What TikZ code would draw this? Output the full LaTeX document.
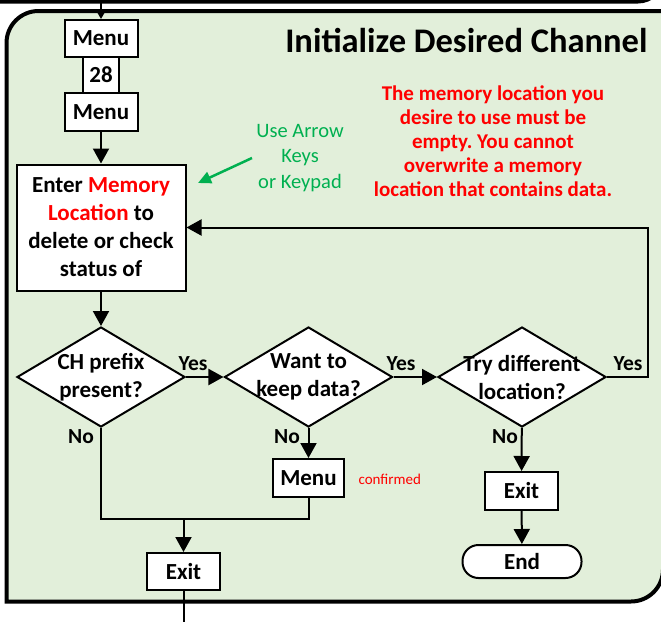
\documentclass[tikz,border=0pt]{standalone}
\usepackage{fontspec}
\setmainfont{Carlito}
\usetikzlibrary{arrows.meta,positioning,calc,shapes.geometric}
\definecolor{panelgreen}{HTML}{E2EFDA}
\definecolor{keygreen}{HTML}{00B050}
\definecolor{notered}{HTML}{FF0000}
\frenchspacing

\begin{document}
\begin{tikzpicture}[x=1pt, y=-1pt, >={Triangle[length=15pt,width=16pt]},
  box/.style={draw, fill=white, line width=2pt, inner sep=0pt, align=center,
    font=\fontsize{23}{28}\selectfont\bfseries},
  decision/.style={draw, fill=white, diamond, line width=2pt, inner sep=0pt,
    minimum width=168pt, minimum height=100pt},
  dtext/.style={inner sep=0pt, align=center, font=\fontsize{23}{28}\selectfont\bfseries},
  answer/.style={inner sep=0pt, font=\fontsize{21.5}{24}\selectfont\bfseries},
  flow/.style={line width=2pt}]
  \useasboundingbox (0,0) rectangle (661,621);

  % panel and the edge of the one above
  \draw[line width=4pt, fill=panelgreen] (6.5,601.5) -- (6.5,43)
    arc[start angle=180, end angle=270, radius=32] -- (663,11) -- (663,569.5)
    arc[start angle=0, end angle=90, radius=32] -- cycle;
  \draw[line width=4pt] (-5,1.5) -- (638,1.5) arc[start angle=90, end angle=0, radius=25];

  \node[font=\fontsize{34.5}{38}\selectfont\bfseries, anchor=east] (title) at (651,40) {Initialize Desired Channel};

  % key sequence
  \node[box, minimum width=73pt, minimum height=37pt] (M1) at (101,38.5) {Menu};
  \node[box, minimum width=36pt, minimum height=36pt] (K28) at (101,75) {28};
  \node[box, minimum width=73pt, minimum height=38pt] (M2) at (101,112) {Menu};
  \node[box, minimum width=169pt, minimum height=126pt] (E) at (101,227.5)
    {Enter \textcolor{notered}{Memory}\\\textcolor{notered}{Location} to\\delete or check\\status of};

  \node[align=center, text=keygreen, font=\fontsize{20.5}{25.5}\selectfont] (keys) at (300,158) {Use Arrow\\Keys\\or Keypad};
  \node[align=center, text=notered, font=\fontsize{21}{24}\selectfont\bfseries] (note) at (493,141)
    {The memory location you\\desire to use must be\\empty. You cannot\\overwrite a memory\\location that contains data.};

  % decisions
  \node[decision] (D1) at (101,377) {};
  \node[dtext] (D1t) at (D1) {CH prefix\\present?};
  \node[decision] (D2) at (308.5,377) {};
  \node[dtext] (D2t) at (D2) {Want to\\keep data?};
  \node[decision] (D3) at (522,377) {};
  \node[dtext] (D3t) at (D3) {Try different\\location?};

  \node[box, minimum width=71pt, minimum height=38pt] (M3) at (308.5,478) {Menu};
  \node[text=notered, font=\fontsize{15}{16}\selectfont, anchor=west] (conf) at (355,479) {confirmed};
  \node[box, minimum width=73pt, minimum height=37pt] (X2) at (183.5,571.5) {Exit};
  \node[box, minimum width=73pt, minimum height=38pt] (X1) at (521.5,491) {Exit};
  \node[box, minimum width=119pt, minimum height=33pt, rounded corners=16pt] (End) at (522,561.5) {End};

  \node[answer] (y1) at (193,364) {Yes};
  \node[answer] (y2) at (401,364) {Yes};
  \node[answer] (y3) at (628,364) {Yes};
  \node[answer] (n1) at (81,437) {No};
  \node[answer] (n2) at (287,437) {No};
  \node[answer] (n3) at (505,437) {No};

  \coordinate (in) at (101,-5);
  \coordinate (back) at (648,227.5);
  \coordinate (join) at (183.5,519);
  \coordinate (out) at (183.5,630);
  \coordinate (kt) at (252,158);

  \draw[flow, -{Triangle[length=10pt,width=11pt]}] (in) -- (M1);
  \draw[flow, ->] (M2) -- (E);
  \draw[flow, ->] (E) -- (D1);
  \draw[flow, ->] (D1) -- (D2);
  \draw[flow, ->] (D2) -- (D3);
  \draw[flow, ->] (D3.east) -| (back) -- (E);
  \draw[flow, ->] (D2) -- (M3);
  \draw[flow, ->] (D3) -- (X1);
  \draw[flow, ->] (X1) -- (End);
  \draw[flow] (D1.south) |- (join);
  \draw[flow] (M3.south) |- (join);
  \draw[flow, ->] (join) -- (X2);
  \draw[flow] (X2) -- (out);
  \draw[line width=2.5pt, keygreen, -{Triangle[length=13pt,width=12pt]}] (kt) -- (198,183);
\end{tikzpicture}
\end{document}
